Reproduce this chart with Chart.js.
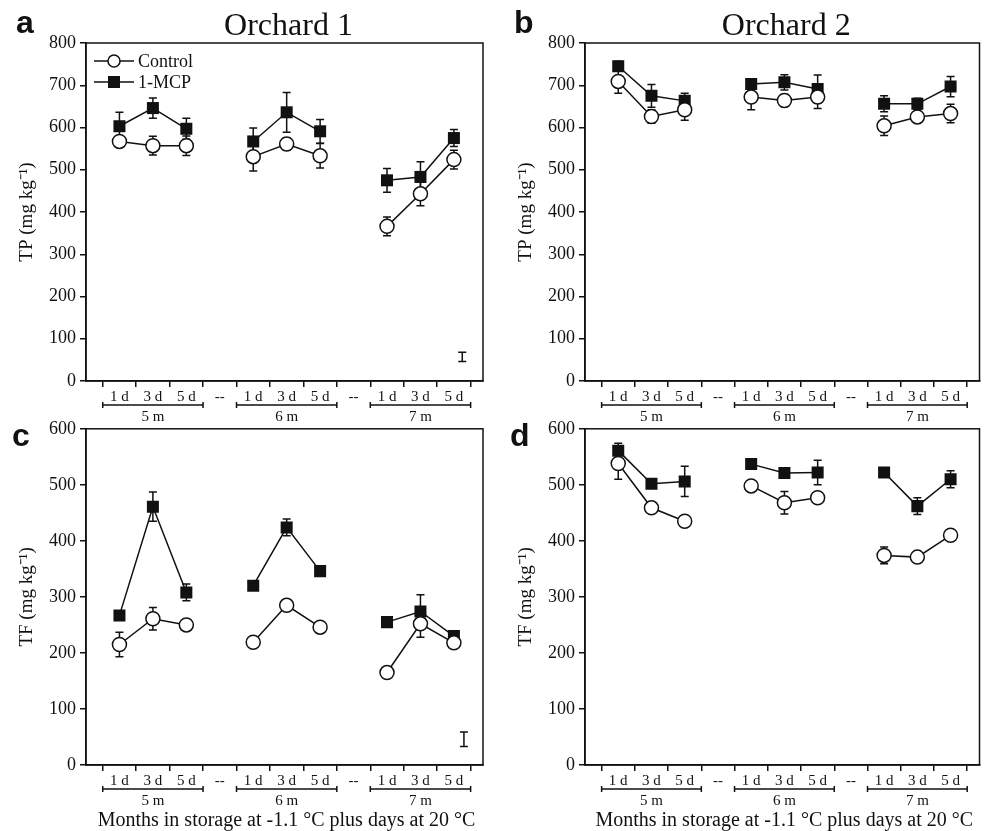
<!DOCTYPE html>
<html>
<head>
<meta charset="utf-8">
<script src="https://cdn.jsdelivr.net/npm/chart.js@4"></script>
<style>
  body { margin: 0; background: #fff; }
  #wrap { position: relative; width: 988px; height: 831px; }
  canvas { position: absolute; }
</style>
</head>
<body>
<div id="wrap">
  <canvas id="ca" style="left:0;top:0" width="494" height="428"></canvas>
  <canvas id="cb" style="left:494px;top:0" width="494" height="428"></canvas>
  <canvas id="cc" style="left:0;top:414px" width="494" height="417"></canvas>
  <canvas id="cd" style="left:494px;top:414px" width="494" height="417"></canvas>
</div>
<script>
// x slots: 3 days per storage month, with a "--" slot between months
const dayLabels = ["1 d", "3 d", "5 d"];
const monthLabels = ["5 m", "6 m", "7 m"];
const xPos = [0.5, 1.5, 2.5, 4.5, 5.5, 6.5, 8.5, 9.5, 10.5];

// Orchard 1, TP
const tpCtrl1 = [567, 557, 557, 531, 561, 533, 366, 443, 524];
const tpCtrl1Err = [11, 22, 23, 34, 15, 29, 22, 28, 22];
const tpMcp1 = [603, 646, 597, 567, 636, 591, 475, 483, 575];
const tpMcp1Err = [33, 24, 25, 32, 47, 28, 28, 36, 20];
const tpLsd1 = [10.75, 57, 11];

// Orchard 2, TP
const tpCtrl2 = [709, 626, 642, 672, 664, 672, 604, 625, 633];
const tpCtrl2Err = [28, 16, 25, 30, 14, 27, 23, 10, 22];
const tpMcp2 = [745, 675, 663, 703, 707, 691, 656, 656, 697];
const tpMcp2Err = [12, 27, 18, 10, 18, 33, 19, 13, 24];

// Orchard 1, TF
const tfCtrl1 = [215, 261, 250, 219, 285, 246, 165, 252, 218];
const tfCtrl1Err = [22, 20, 0, 0, 8, 0, 0, 24, 0];
const tfMcp1 = [267, 461, 308, 320, 424, 346, 255, 274, 230];
const tfMcp1Err = [0, 26, 15, 0, 15, 0, 0, 30, 0];
const tfLsd1 = [10.8, 46, 13];

// Orchard 2, TF
const tfCtrl2 = [538, 459, 435, 498, 468, 477, 374, 371, 410];
const tfCtrl2Err = [28, 0, 0, 0, 20, 0, 15, 0, 0];
const tfMcp2 = [561, 502, 506, 537, 521, 522, 522, 462, 510];
const tfMcp2Err = [13, 0, 27, 0, 0, 22, 0, 15, 15];

const serif = "'Liberation Serif', 'Times New Roman', serif";

function toPoints(vals) {
  const pts = [];
  vals.forEach((v, i) => {
    pts.push({ x: xPos[i], y: v });
    if (i === 2 || i === 5) pts.push({ x: xPos[i] + 1, y: null });
  });
  return pts;
}

const decor = {
  id: "decor",
  beforeDatasetsDraw(chart, args, o) {
    const ctx = chart.ctx, xs = chart.scales.x, ys = chart.scales.y;
    ctx.save();
    ctx.strokeStyle = "#111";
    ctx.lineWidth = 1.5;
    const bar = (xv, yv, e) => {
      if (!e) return;
      const px = xs.getPixelForValue(xv);
      const t = ys.getPixelForValue(yv + e), b = ys.getPixelForValue(yv - e);
      ctx.beginPath();
      ctx.moveTo(px, t); ctx.lineTo(px, b);
      ctx.moveTo(px - 4, t); ctx.lineTo(px + 4, t);
      ctx.moveTo(px - 4, b); ctx.lineTo(px + 4, b);
      ctx.stroke();
    };
    o.errors.forEach((errs, d) => {
      const vals = o.values[d];
      errs.forEach((e, i) => bar(xPos[i], vals[i], e));
    });
    if (o.lsd) bar(o.lsd[0], o.lsd[1], o.lsd[2]);
    ctx.restore();
  },
  afterDraw(chart, args, o) {
    const ctx = chart.ctx, xs = chart.scales.x, a = chart.chartArea;
    ctx.save();
    ctx.strokeStyle = "#111";
    ctx.fillStyle = "#111";
    ctx.lineWidth = 1.5;
    ctx.strokeRect(a.left, a.top, a.right - a.left, a.bottom - a.top);

    // day labels, brackets, month labels
    ctx.textAlign = "center";
    ctx.textBaseline = "middle";
    ctx.font = "15px " + serif;
    for (let m = 0; m < 3; m++) {
      const base = m * 4;
      dayLabels.forEach((d, i) => {
        ctx.fillText(d, xs.getPixelForValue(base + i + 0.5), a.bottom + 16);
      });
      if (m < 2) ctx.fillText("--", xs.getPixelForValue(base + 3.5), a.bottom + 16);
      const x0 = xs.getPixelForValue(base), x1 = xs.getPixelForValue(base + 3);
      const by = a.bottom + 24;
      ctx.beginPath();
      ctx.moveTo(x0, by); ctx.lineTo(x1, by);
      ctx.moveTo(x0, by - 3); ctx.lineTo(x0, by + 3);
      ctx.moveTo(x1, by - 3); ctx.lineTo(x1, by + 3);
      ctx.stroke();
      ctx.fillText(monthLabels[m], xs.getPixelForValue(base + 1.5), a.bottom + 36);
    }
    if (o.xTitle) {
      ctx.font = "20px " + serif;
      ctx.fillText("Months in storage at -1.1 \u00b0C plus days at 20 \u00b0C",
        (a.left + a.right) / 2 + 2, a.bottom + 56);
    }
    if (o.title) {
      ctx.font = "32px " + serif;
      ctx.textBaseline = "alphabetic";
      ctx.fillText(o.title, (a.left + a.right) / 2 + 4, a.top - 8);
    }
    ctx.font = "bold 32px 'Liberation Sans', Arial, sans-serif";
    ctx.textAlign = "left";
    ctx.textBaseline = "alphabetic";
    ctx.fillText(o.letter, o.letterX, a.top + o.letterDy);

    if (o.legend) {
      ctx.font = "18px " + serif;
      ctx.textBaseline = "middle";
      const lx = a.left + 8;
      chart.data.datasets.forEach((ds, i) => {
        const ly = a.top + 18 + i * 21;
        ctx.lineWidth = 1.5;
        ctx.beginPath();
        ctx.moveTo(lx, ly); ctx.lineTo(lx + 40, ly);
        ctx.stroke();
        ctx.beginPath();
        if (ds.pointStyle === "circle") {
          ctx.fillStyle = "#fff";
          ctx.arc(lx + 20, ly, 6, 0, Math.PI * 2);
          ctx.fill(); ctx.stroke();
        } else {
          ctx.fillStyle = "#111";
          ctx.fillRect(lx + 14, ly - 6, 12, 12);
        }
        ctx.fillStyle = "#111";
        ctx.fillText(ds.label, lx + 44, ly + 1);
      });
    }
    ctx.restore();
  }
};

function makePanel(id, cfg) {
  const yWidth = cfg.left;
  new Chart(document.getElementById(id), {
    type: "line",
    data: {
      datasets: [
        {
          label: "Control",
          data: toPoints(cfg.ctrl),
          borderColor: "#111",
          borderWidth: 1.5,
          backgroundColor: "#fff",
          pointStyle: "circle",
          pointRadius: 7,
          pointBorderWidth: 1.5,
          pointBorderColor: "#111",
          pointBackgroundColor: "#fff",
          spanGaps: false
        },
        {
          label: "1-MCP",
          data: toPoints(cfg.mcp),
          borderColor: "#111",
          borderWidth: 1.5,
          backgroundColor: "#111",
          pointStyle: "rect",
          pointRadius: 8.5,
          pointBorderWidth: 0,
          pointBackgroundColor: "#111",
          spanGaps: false
        }
      ]
    },
    options: {
      responsive: false,
      animation: false,
      layout: { padding: { left: 0, top: cfg.top, right: cfg.right, bottom: 0 } },
      plugins: {
        legend: { display: false },
        tooltip: { enabled: false },
        decor: {
          values: [cfg.ctrl, cfg.mcp],
          errors: [cfg.ctrlErr, cfg.mcpErr],
          lsd: cfg.lsd,
          title: cfg.title,
          letter: cfg.letter,
          letterX: cfg.letterX,
          letterDy: cfg.letterDy,
          legend: cfg.legend,
          xTitle: cfg.xTitle
        }
      },
      scales: {
        x: {
          type: "linear",
          min: -0.5,
          max: 11.37,
          afterBuildTicks: (s) => { s.ticks = Array.from({ length: 12 }, (_, i) => ({ value: i })); },
          afterFit: (s) => { s.height = cfg.xHeight; },
          ticks: { display: false },
          grid: { drawOnChartArea: false, tickLength: 6, color: "#111", lineWidth: 1.5 },
          border: { color: "#111", width: 1.5 }
        },
        y: {
          min: 0,
          max: cfg.ymax,
          afterFit: (s) => { s.width = yWidth; },
          ticks: { stepSize: 100, color: "#111", padding: 4, font: { family: serif, size: 18 } },
          grid: { drawOnChartArea: false, tickLength: 6, color: "#111", lineWidth: 1.5 },
          border: { color: "#111", width: 1.5 },
          title: {
            display: true,
            text: cfg.yTitle,
            color: "#111",
            padding: { top: cfg.titlePad, bottom: 0 },
            font: { family: serif, size: 19 }
          }
        }
      }
    },
    plugins: [decor]
  });
}

makePanel("ca", {
  ctrl: tpCtrl1, ctrlErr: tpCtrl1Err, mcp: tpMcp1, mcpErr: tpMcp1Err, lsd: tpLsd1,
  ymax: 800, yTitle: "TP (mg kg\u207b\u00b9)", title: "Orchard 1", letter: "a", letterX: 16, letterDy: -10,
  legend: true, xTitle: false, left: 86, top: 43, right: 11, xHeight: 428 - 43 - 338, titlePad: 16
});
makePanel("cb", {
  ctrl: tpCtrl2, ctrlErr: tpCtrl2Err, mcp: tpMcp2, mcpErr: tpMcp2Err, lsd: null,
  ymax: 800, yTitle: "TP (mg kg\u207b\u00b9)", title: "Orchard 2", letter: "b", letterX: 20, letterDy: -10,
  legend: false, xTitle: false, left: 91, top: 43, right: 6, xHeight: 428 - 43 - 338, titlePad: 21
});
makePanel("cc", {
  ctrl: tfCtrl1, ctrlErr: tfCtrl1Err, mcp: tfMcp1, mcpErr: tfMcp1Err, lsd: tfLsd1,
  ymax: 600, yTitle: "TF (mg kg\u207b\u00b9)", title: null, letter: "c", letterX: 12, letterDy: 17,
  legend: false, xTitle: true, left: 86, top: 14, right: 11, xHeight: 417 - 14 - 337, titlePad: 16
});
makePanel("cd", {
  ctrl: tfCtrl2, ctrlErr: tfCtrl2Err, mcp: tfMcp2, mcpErr: tfMcp2Err, lsd: null,
  ymax: 600, yTitle: "TF (mg kg\u207b\u00b9)", title: null, letter: "d", letterX: 16, letterDy: 17,
  legend: false, xTitle: true, left: 91, top: 14, right: 6, xHeight: 417 - 14 - 337, titlePad: 21
});
</script>
</body>
</html>
